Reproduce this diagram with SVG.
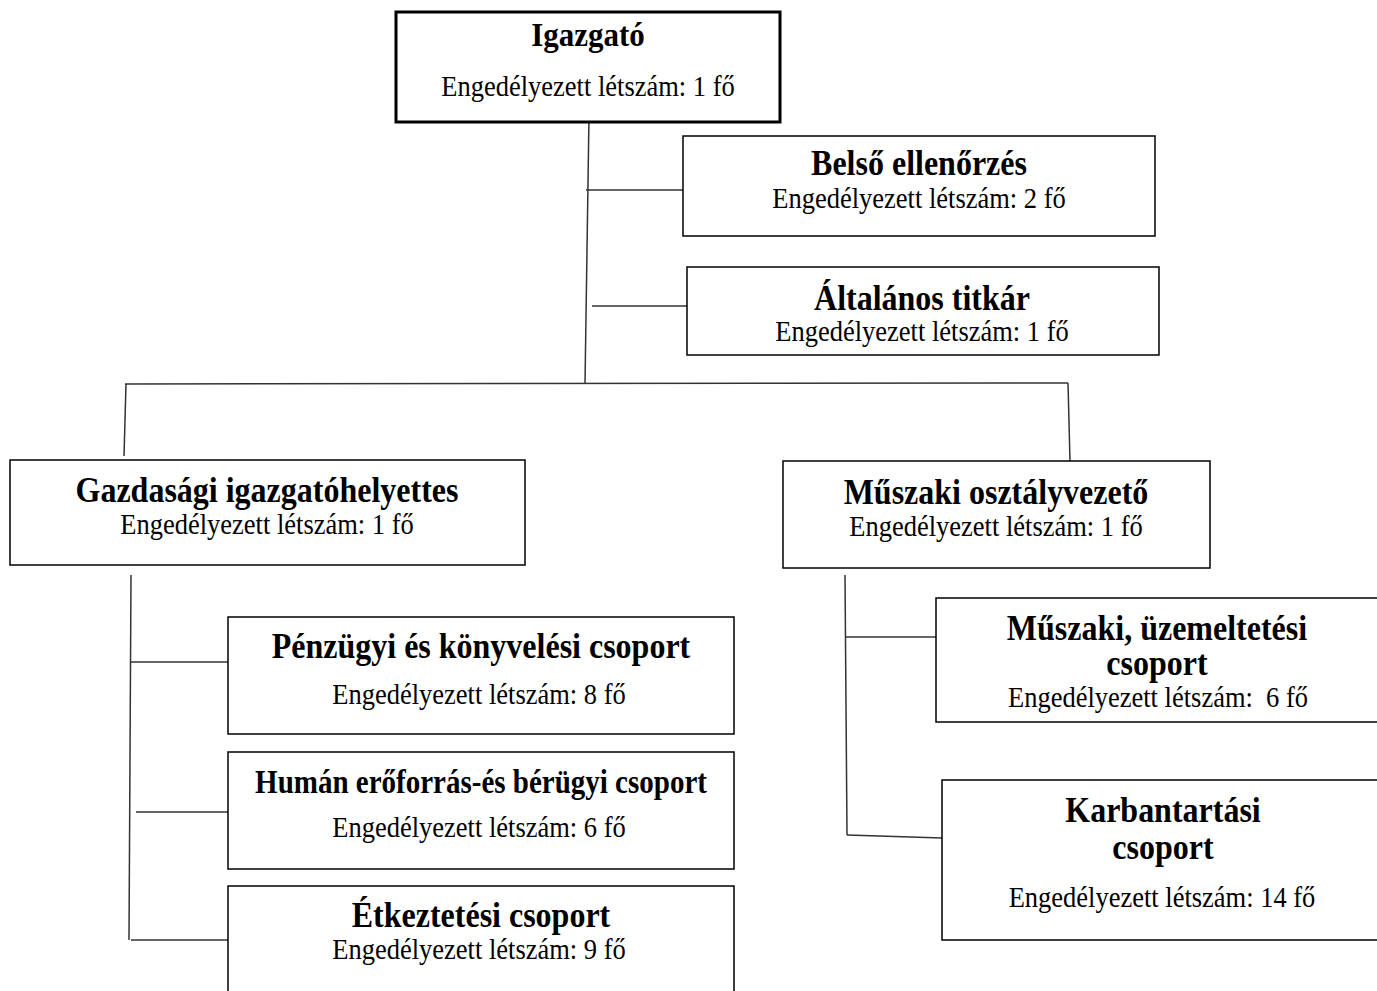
<svg xmlns="http://www.w3.org/2000/svg" width="1377" height="991" viewBox="0 0 1377 991">
<style>
.box{fill:#fff;stroke:#000;stroke-width:1.5}
.top{fill:#fff;stroke:#000;stroke-width:3}
.t{font-family:"Liberation Serif","Times New Roman",serif;font-weight:bold;font-size:32px;text-anchor:middle;fill:#000}
.s{font-family:"Liberation Serif","Times New Roman",serif;font-size:26.5px;text-anchor:middle;fill:#000;white-space:pre}
.c{stroke:#333;stroke-width:1.5;fill:none}
</style>
<rect width="1377" height="991" fill="#fff"/>
<g id="connectors">
<line class="c" x1="589" y1="116" x2="585" y2="384"/>
<line class="c" x1="586" y1="190" x2="683" y2="190"/>
<line class="c" x1="592" y1="306" x2="687" y2="306"/>
<line class="c" x1="125" y1="384" x2="1068" y2="383"/>
<line class="c" x1="126" y1="384" x2="124" y2="456"/>
<line class="c" x1="1068" y1="383" x2="1070" y2="461"/>
<line class="c" x1="131" y1="575" x2="129" y2="940"/>
<line class="c" x1="131" y1="662" x2="228" y2="662"/>
<line class="c" x1="136" y1="812" x2="228" y2="812"/>
<line class="c" x1="131" y1="940" x2="228" y2="940"/>
<line class="c" x1="845" y1="575" x2="847" y2="835"/>
<line class="c" x1="845" y1="637" x2="936" y2="637"/>
<line class="c" x1="847" y1="835" x2="942" y2="838"/>
</g>
<g id="igazgato">
<rect class="top" x="396" y="12" width="384" height="110"/>
<text class="t" style="font-size:31px" transform="translate(588 46) scale(1 1.1)">Igazgató</text>
<text class="s" transform="translate(588 96) scale(1 1.1)">Engedélyezett létszám: 1 fő</text>
</g>
<g id="belso">
<rect class="box" x="683" y="136" width="472" height="100"/>
<text class="t" transform="translate(919 175) scale(1 1.1)">Belső ellenőrzés</text>
<text class="s" transform="translate(919 208) scale(1 1.1)">Engedélyezett létszám: 2 fő</text>
</g>
<g id="altalanos">
<rect class="box" x="687" y="267" width="472" height="88"/>
<text class="t" transform="translate(922 310) scale(1 1.1)">Általános titkár</text>
<text class="s" transform="translate(922 341) scale(1 1.1)">Engedélyezett létszám: 1 fő</text>
</g>
<g id="gazdasagi">
<rect class="box" x="10" y="460" width="515" height="105"/>
<text class="t" transform="translate(267 502) scale(1 1.1)">Gazdasági igazgatóhelyettes</text>
<text class="s" transform="translate(267 534) scale(1 1.1)">Engedélyezett létszám: 1 fő</text>
</g>
<g id="muszaki">
<rect class="box" x="783" y="461" width="427" height="107"/>
<text class="t" transform="translate(996 504) scale(1 1.1)">Műszaki osztályvezető</text>
<text class="s" transform="translate(996 536) scale(1 1.1)">Engedélyezett létszám: 1 fő</text>
</g>
<g id="penzugyi">
<rect class="box" x="228" y="617" width="506" height="117"/>
<text class="t" transform="translate(481 658) scale(1 1.1)">Pénzügyi és könyvelési csoport</text>
<text class="s" transform="translate(479 704) scale(1 1.1)">Engedélyezett létszám: 8 fő</text>
</g>
<g id="human">
<rect class="box" x="228" y="752" width="506" height="117"/>
<text class="t" style="font-size:29px" transform="translate(481 793) scale(1 1.15)">Humán erőforrás-és bérügyi csoport</text>
<text class="s" transform="translate(479 837) scale(1 1.1)">Engedélyezett létszám: 6 fő</text>
</g>
<g id="etkeztetesi">
<rect class="box" x="228" y="886" width="506" height="112"/>
<text class="t" transform="translate(481 927) scale(1 1.1)">Étkeztetési csoport</text>
<text class="s" transform="translate(479 959) scale(1 1.1)">Engedélyezett létszám: 9 fő</text>
</g>
<g id="uzemeltetesi">
<rect class="box" x="936" y="598" width="442" height="124"/>
<text class="t" transform="translate(1157 640) scale(1 1.1)">Műszaki, üzemeltetési</text>
<text class="t" transform="translate(1157 675) scale(1 1.1)">csoport</text>
<text class="s" transform="translate(1158 707) scale(1 1.1)">Engedélyezett létszám:  6 fő</text>
</g>
<g id="karbantartasi">
<rect class="box" x="942" y="780" width="436" height="160"/>
<text class="t" transform="translate(1163 822) scale(1 1.1)">Karbantartási</text>
<text class="t" transform="translate(1163 859) scale(1 1.1)">csoport</text>
<text class="s" transform="translate(1162 907) scale(1 1.1)">Engedélyezett létszám: 14 fő</text>
</g>
</svg>
